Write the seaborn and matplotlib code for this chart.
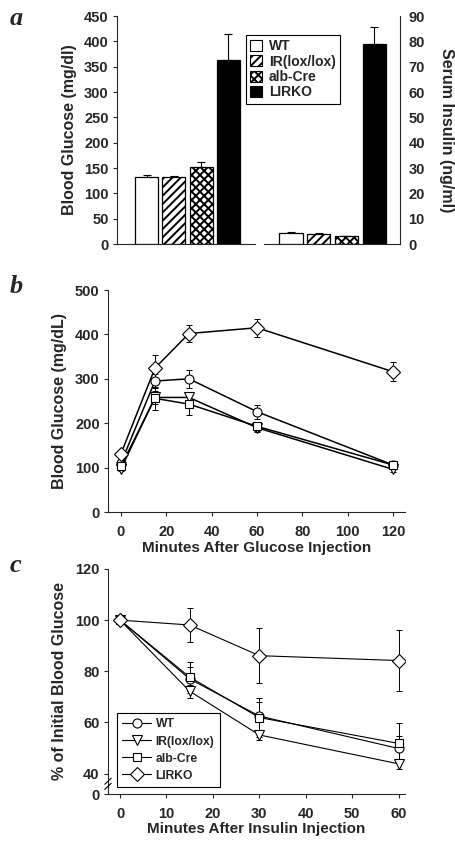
import numpy as np
import pandas as pd
import matplotlib
matplotlib.use("Agg")
import matplotlib.pyplot as plt
from matplotlib.patches import Patch
from matplotlib.lines import Line2D
import seaborn as sns

# ---------------- data ----------------
genotypes = ["WT", "IR(lox/lox)", "alb-Cre", "LIRKO"]

# panel a
glucose_mean = [132, 133, 151, 364]
glucose_err = [4, 2, 11, 51]
insulin_mean = [4.4, 3.8, 3.0, 78.8]
insulin_err = [0.4, 0.4, 0.3, 6.7]

# panel b (glucose tolerance)
gtt_time = [0, 15, 30, 60, 120]
gtt_wt = [110, 295, 300, 226, 106]
gtt_ir = [97, 258, 258, 190, 96]
gtt_alb = [103, 256, 243, 193, 106]
gtt_lirko = [131, 324, 402, 415, 316]
gtt_wt_err = [5, 15, 20, 16, 5]
gtt_ir_err = [5, 14, 12, 10, 5]
gtt_alb_err = [6, 26, 24, 10, 5]
gtt_lirko_err = [8, 30, 20, 20, 21]

# panel c (insulin tolerance)
itt_time = [0, 15, 30, 60]
itt_wt = [100, 77.0, 62.5, 49.8]
itt_ir = [100, 72.2, 55.1, 43.8]
itt_alb = [100, 77.7, 61.9, 51.8]
itt_lirko = [100, 98.1, 86.1, 84.2]
itt_wt_err = [0, 4.6, 5.5, 4.9]
itt_ir_err = [0, 2.5, 2.0, 2.0]
itt_alb_err = [0, 6.1, 7.7, 7.8]
itt_lirko_err = [0, 6.5, 10.8, 12.0]

# ---------------- style ----------------
sns.set_theme(style="ticks")
plt.rcParams["font.family"] = ["Liberation Sans", "DejaVu Sans"]
plt.rcParams["font.weight"] = "bold"
plt.rcParams["axes.labelweight"] = "bold"
plt.rcParams["hatch.linewidth"] = 1.4
plt.rcParams["axes.linewidth"] = 0.8
plt.rcParams["xtick.major.width"] = 0.8
plt.rcParams["ytick.major.width"] = 0.8
plt.rcParams["xtick.major.size"] = 3
plt.rcParams["ytick.major.size"] = 3
plt.rcParams["xtick.major.pad"] = 6
plt.rcParams["ytick.major.pad"] = 3

W, H = 456, 842
fig = plt.figure(figsize=(W / 100, H / 100), dpi=100)


def rect(l, r, t, b):
    return [l / W, 1 - b / H, (r - l) / W, (b - t) / H]


TICKFS = 10.5
YLABFS = 11.5
XLABFS = 11
bar_colors = ["white", "white", "white", "black"]
hatches = ["", "////", "xxxx", ""]

# ---------------- panel a ----------------
axL = fig.add_axes(rect(117, 255, 16, 244))
axR = fig.add_axes(rect(264, 400, 16, 244))

dfa = pd.DataFrame({"genotype": genotypes, "glucose": glucose_mean, "insulin": insulin_mean})
sns.barplot(data=dfa, x="genotype", y="glucose", order=genotypes, hue="genotype",
            palette=bar_colors, edgecolor="black", linewidth=0.9, width=0.84,
            legend=False, errorbar=None, ax=axL)
sns.barplot(data=dfa, x="genotype", y="insulin", order=genotypes, hue="genotype",
            palette=bar_colors, edgecolor="black", linewidth=0.9, width=0.84,
            legend=False, errorbar=None, ax=axR)
for ax, m, e in [(axL, glucose_mean, glucose_err), (axR, insulin_mean, insulin_err)]:
    for p, h in zip(ax.patches, hatches):
        p.set_hatch(h)
    ax.errorbar(np.arange(4), m, yerr=[np.zeros(4), e], fmt="none", ecolor="black",
                elinewidth=0.8, capsize=3, capthick=0.8, zorder=1)
    for p in ax.patches:
        p.set_zorder(2)

axL.set_xlim(-1.08, 3.97)
axL.set_ylim(0, 450)
axL.set_yticks(range(0, 451, 50))
axL.set_xticks([])
axL.set_xlabel("")
axL.set_ylabel("Blood Glucose (mg/dl)", fontsize=YLABFS, fontweight="bold", labelpad=5)
sns.despine(ax=axL)

axR.set_xlim(-0.97, 3.93)
axR.set_ylim(0, 90)
axR.set_yticks(range(0, 91, 10))
axR.set_xticks([])
axR.set_xlabel("")
axR.yaxis.tick_right()
axR.yaxis.set_label_position("right")
axR.tick_params(axis="y", direction="in", pad=6)
axR.set_ylabel("Serum Insulin (ng/ml)", fontsize=YLABFS, fontweight="bold",
               rotation=270, labelpad=21)
sns.despine(ax=axR, left=True, right=False)

for ax in (axL, axR):
    ax.tick_params(labelsize=TICKFS)
    for t in ax.get_yticklabels():
        t.set_fontweight("bold")

leg_handles = [Patch(facecolor=c, edgecolor="black", hatch=h, linewidth=0.8)
               for c, h in zip(bar_colors, hatches)]
leg = fig.legend(leg_handles, genotypes, loc="upper left",
                 bbox_to_anchor=(246 / W, 1 - 35 / H), frameon=True, fancybox=False,
                 edgecolor="black", framealpha=1, fontsize=10, handlelength=0.85,
                 handleheight=0.85, handletextpad=0.5, labelspacing=0.1,
                 borderpad=0.3, borderaxespad=0)
leg.get_frame().set_linewidth(0.8)
for t in leg.get_texts():
    t.set_fontweight("bold")

# ---------------- line panels helper ----------------
markers = {"WT": "o", "IR(lox/lox)": "v", "alb-Cre": "s", "LIRKO": "D"}
msizes = {"WT": 6.5, "IR(lox/lox)": 7, "alb-Cre": 6, "LIRKO": 7.5}


def line_panel(ax, time, series, errs, lw):
    for g in genotypes:
        df = pd.DataFrame({"t": time, "v": series[g]})
        ax.errorbar(time, series[g], yerr=errs[g], fmt="none", ecolor="black",
                    elinewidth=0.7, capsize=2.5, capthick=0.7, zorder=1)
        sns.lineplot(data=df, x="t", y="v", color="black", linewidth=lw,
                     marker=markers[g], markersize=msizes[g], markerfacecolor="white",
                     markeredgecolor="black", markeredgewidth=0.8, ax=ax, zorder=3)
    for ln in ax.lines:
        ln.set_markerfacecolor("white")
    sns.despine(ax=ax)
    ax.tick_params(labelsize=TICKFS)


# ---------------- panel b ----------------
axB = fig.add_axes(rect(108, 405, 290, 512))
line_panel(axB, gtt_time,
           {"WT": gtt_wt, "IR(lox/lox)": gtt_ir, "alb-Cre": gtt_alb, "LIRKO": gtt_lirko},
           {"WT": gtt_wt_err, "IR(lox/lox)": gtt_ir_err, "alb-Cre": gtt_alb_err,
            "LIRKO": gtt_lirko_err}, 1.1)
axB.set_xlim(-5.7, 125.3)
axB.set_ylim(0, 500)
axB.set_xticks(range(0, 121, 20))
axB.set_yticks(range(0, 501, 100))
axB.set_xlabel("Minutes After Glucose Injection", fontsize=XLABFS, fontweight="bold", labelpad=2)
axB.set_ylabel("Blood Glucose (mg/dL)", fontsize=YLABFS, fontweight="bold", labelpad=6)
for t in axB.get_xticklabels() + axB.get_yticklabels():
    t.set_fontweight("bold")

# ---------------- panel c ----------------
axC = fig.add_axes(rect(108, 405, 569, 794))
line_panel(axC, itt_time,
           {"WT": itt_wt, "IR(lox/lox)": itt_ir, "alb-Cre": itt_alb, "LIRKO": itt_lirko},
           {"WT": itt_wt_err, "IR(lox/lox)": itt_ir_err, "alb-Cre": itt_alb_err,
            "LIRKO": itt_lirko_err}, 0.8)
axC.set_xlim(-2.6, 61.4)
axC.set_ylim(32, 120)
axC.set_xticks(range(0, 61, 10))
axC.set_yticks([32, 40, 60, 80, 100, 120])
axC.set_yticklabels(["0", "40", "60", "80", "100", "120"])
axC.set_xlabel("Minutes After Insulin Injection", fontsize=XLABFS, fontweight="bold", labelpad=1)
axC.set_ylabel("% of Initial Blood Glucose", fontsize=YLABFS, fontweight="bold", labelpad=6)
for t in axC.get_xticklabels() + axC.get_yticklabels():
    t.set_fontweight("bold")
# axis break marks
for yb in (35.0, 37.0):
    axC.plot([-3.3, -1.9], [yb - 1.2, yb + 1.2], color="black", linewidth=0.8,
             transform=axC.transData, clip_on=False, zorder=5)

leg_c = [Line2D([0], [0], color="black", linewidth=0.8, marker=markers[g],
                markersize=msizes[g], markerfacecolor="white", markeredgecolor="black",
                markeredgewidth=0.8) for g in genotypes]
lc = axC.legend(leg_c, genotypes, loc="upper left", bbox_to_anchor=(117 / W, 1 - 713 / H),
                bbox_transform=fig.transFigure, frameon=True, fancybox=False,
                edgecolor="black", framealpha=1, fontsize=8.7, handlelength=2.4,
                handletextpad=0.35, labelspacing=0.42, borderpad=0.45, borderaxespad=0)
lc.get_frame().set_linewidth(0.8)
for t in lc.get_texts():
    t.set_fontweight("bold")

# ---------------- panel letters ----------------
for letter, (x, y) in {"a": (10, 25), "b": (10, 293), "c": (10, 572)}.items():
    fig.text(x / W, 1 - y / H, letter, fontsize=19, fontweight="bold", fontstyle="italic",
             family=["Liberation Serif", "DejaVu Serif"], ha="left", va="baseline")

fig.savefig("out.png", dpi=100)
